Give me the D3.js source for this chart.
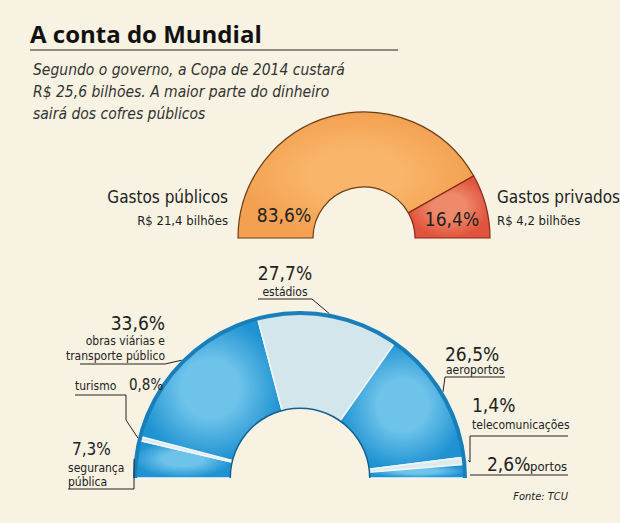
<!DOCTYPE html><html><head><meta charset="utf-8">
<script src="https://cdn.jsdelivr.net/npm/d3@7"></script>
<style>body{margin:0;background:#f8f2e2}</style></head><body><svg id="c" width="620" height="523"></svg>
<script>
const topCats=["Gastos públicos","Gastos privados"];
const topVals=[83.6,16.4];
const topSub=["R$ 21,4 bilhões","R$ 4,2 bilhões"];
const botCats=["segurança|pública","turismo","obras viárias e|transporte público","estádios","aeroportos","telecomunicações","portos"];
const botVals=[7.3,0.8,33.6,27.7,26.5,1.4,2.6];
const fmt=v=>String(v).replace(".",",")+"%";
const svg=d3.select("#c");
const F="'DejaVu Sans Condensed','Liberation Sans',sans-serif";
svg.append("rect").attr("width",620).attr("height",523).attr("fill","#f8f2e2");
svg.append("text").attr("x",30).attr("y",43).attr("font-family","'Open Sans',sans-serif").attr("font-weight",700).attr("font-size",24).attr("fill","#111").text("A conta do Mundial");
svg.append("line").attr("x1",30).attr("x2",398).attr("y1",50).attr("y2",50).attr("stroke","#222");
["Segundo o governo, a Copa de 2014 custará","R$ 25,6 bilhões. A maior parte do dinheiro","sairá dos cofres públicos"].forEach((t,i)=>svg.append("text").attr("x",33).attr("y",75+i*22).attr("font-family",F).attr("font-style","italic").attr("font-size",15.5).attr("fill","#333").text(t));
const defs=svg.append("defs");
function rg(id,c1,c2){const g=defs.append("radialGradient").attr("id",id);g.append("stop").attr("offset","40%").attr("stop-color",c1);g.append("stop").attr("offset","100%").attr("stop-color",c2);}
rg("or","#f9b56a","#f3a050");rg("rd","#ee8a6a","#e0533c");rg("bl","#6ec3ea","#1f93d2");
const pie=d3.pie().sort(null).startAngle(-Math.PI/2).endAngle(Math.PI/2);
function txt(x,y,t,size,anchor){return svg.append("text").attr("x",x).attr("y",y).attr("text-anchor",anchor||"start").attr("font-family",F).attr("font-size",size).attr("fill","#222").text(t);}
// top
const g1=svg.append("g").attr("transform","translate(364,238)");
const a1=d3.arc().innerRadius(51).outerRadius(126);
g1.selectAll("path").data(pie(topVals)).join("path").attr("d",a1).attr("fill",(d,i)=>i?"url(#rd)":"url(#or)").attr("stroke",(d,i)=>i?"#8a2a1a":"#6a3e14").attr("stroke-width",1.2);
txt(284,222,fmt(topVals[0]),19,"middle");
txt(452,226,fmt(topVals[1]),19,"middle");
txt(228,203,topCats[0],17,"end");txt(228,225,topSub[0],13,"end");
txt(497,203,topCats[1],17);txt(497,225,topSub[1],13);
// bottom
const cx=300,cy=478,R=167,r=69;
const g2=svg.append("g").attr("transform",`translate(${cx},${cy})`);
const a2=d3.arc().innerRadius(r).outerRadius(R);
const bp=pie(botVals);
const fills=["url(#bl)","#dcebee","url(#bl)","#d3e6ec","url(#bl)","#dcebee","url(#bl)"];
g2.selectAll("path").data(bp).join("path").attr("d",a2).attr("fill",(d,i)=>fills[i]).attr("stroke","#f0f6f6").attr("stroke-width",1.5);
g2.append("path").attr("d",d3.arc().innerRadius(R-4).outerRadius(R).startAngle(-Math.PI/2).endAngle(Math.PI/2)()).attr("fill","#1a7fb8");
g2.append("path").attr("d",d3.arc().innerRadius(r).outerRadius(r+1.5).startAngle(-Math.PI/2).endAngle(Math.PI/2)()).attr("fill","#1a5f8a");
const pt=(i,rr)=>{const a=(bp[i].startAngle+bp[i].endAngle)/2;return [cx+rr*Math.sin(a),cy-rr*Math.cos(a)];};
function lead(pts){svg.append("path").attr("d",d3.line()(pts)).attr("fill","none").attr("stroke","#222").attr("stroke-width",1);}
// segurança
txt(72,455,fmt(botVals[0]),17);txt(68,472,"segurança",12);txt(68,486,"pública",12);
lead([[68,489],[134,489],pt(0,R)]);
// turismo
txt(75,390,botCats[1],12);txt(92+37,390,fmt(botVals[1]),15);
lead([[75,395],[126,395],[126,420],pt(1,R)]);
// obras
txt(165,330,fmt(botVals[2]),19,"end");txt(165,345,"obras viárias e",12,"end");txt(165,360,"transporte público",12,"end");
lead([[80,364],[165,364],pt(2,R)]);
// estádios
txt(285,280,fmt(botVals[3]),19,"middle");txt(285,296,botCats[3],12,"middle");
lead([[258,299],[312,299],pt(3,R)]);
// aeroportos
txt(445,361,fmt(botVals[4]),19);txt(446,374,botCats[4],12);
lead([[505,377],[445,377],pt(4,R)]);
// telecom
txt(472,412,fmt(botVals[5]),19);txt(472,429,botCats[5],12);
lead([[568,436],[470,436],[470,462],pt(5,R+2)]);
// portos
txt(487,471,fmt(botVals[6]),19);txt(530,471,botCats[6],13);
lead([[568,475],[470,475]]);
svg.append("text").attr("x",568).attr("y",500).attr("text-anchor","end").attr("font-family",F).attr("font-style","italic").attr("font-size",11).attr("fill","#222").text("Fonte: TCU");
</script></body></html>
